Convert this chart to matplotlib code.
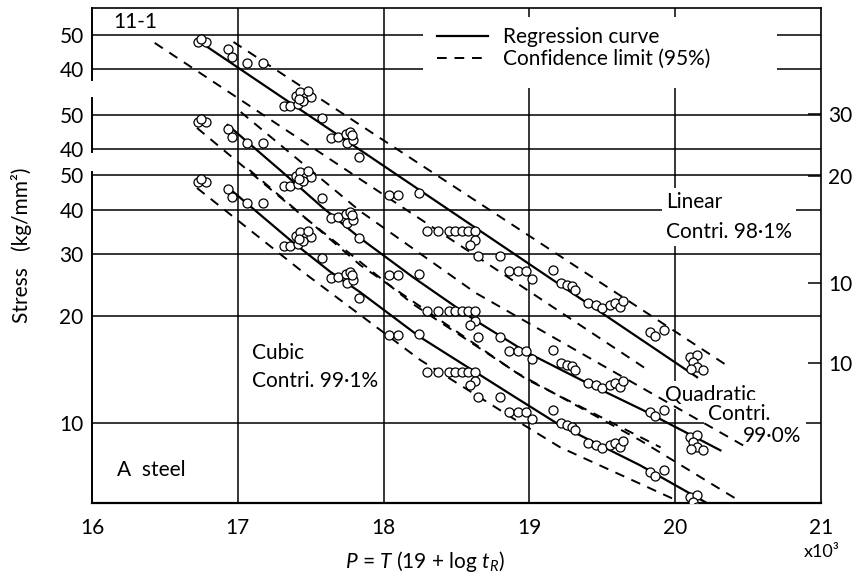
import matplotlib as mat
mat.use("Agg")
import matplotlib.pyplot as plt
from matplotlib.lines import Line2D
from matplotlib.patches import Rectangle
from matplotlib.ticker import NullLocator

mat.rcParams['font.family'] = ['Lato', 'DejaVu Sans']
mat.rcParams['mathtext.fontset'] = 'custom'
mat.rcParams['mathtext.rm'] = 'Lato'
mat.rcParams['mathtext.it'] = 'Lato:italic'

# rupture data: P = T(19 + log tR) in 10^3, stress in kg/mm2
p_data = [16.73, 16.78, 16.75, 16.93, 16.96, 17.06, 17.17,
          17.32, 17.36, 17.41, 17.40, 17.43, 17.47, 17.50, 17.45, 17.48, 17.42, 17.58,
          17.64, 17.69, 17.74, 17.77, 17.75, 17.79, 17.78, 17.83,
          18.04, 18.10, 18.24,
          18.30, 18.37, 18.45, 18.49, 18.54, 18.58, 18.63, 18.63, 18.59,
          18.65, 18.80, 18.86, 18.92, 18.98, 19.02, 19.16,
          19.22, 19.26, 19.29, 19.31,
          19.40, 19.46, 19.50, 19.55, 19.59, 19.62, 19.64,
          19.83, 19.86, 19.92,
          20.10, 20.15, 20.12, 20.15, 20.19, 20.11]
s_data = [47.8, 47.8, 48.7, 45.7, 43.3, 41.7, 41.7,
          31.5, 31.5, 31.9, 33.7, 34.5, 33.5, 33.5, 32.6, 34.8, 33.0, 29.2,
          25.6, 25.8, 26.3, 26.7, 24.9, 25.3, 26.1, 22.6,
          17.7, 17.7, 17.9,
          14.0, 14.0, 14.0, 14.0, 14.0, 14.0, 14.0, 13.2, 12.8,
          11.9, 11.9, 10.8, 10.8, 10.8, 10.3, 10.9,
          10.0, 9.9, 9.8, 9.6,
          8.8, 8.7, 8.5, 8.7, 8.8, 8.6, 8.9,
          7.3, 7.1, 7.4,
          6.2, 6.3, 6.0, 5.8, 5.7, 5.75]

# regression curves and 95% limits
lin_p = [16.79, 20.15]
lin_s = [46.3, 5.44]
lin_up_p = [16.97, 20.38]
lin_up_s = [47.8, 5.78]
lin_lo_p = [16.43, 19.79]
lin_lo_s = [47.5, 5.78]

quad_p = [16.93, 17.29, 17.58, 17.84, 18.20, 18.63, 18.98, 19.44, 19.78, 20.31]
quad_s = [46.9, 35.0, 27.5, 22.5, 17.5, 13.2, 10.75, 8.62, 7.38, 5.69]
quad_up_p = [17.02, 17.84, 18.63, 19.44, 20.49]
quad_up_s = [51.0, 26.8, 15.8, 10.2, 5.80]
quad_lo_p = [16.72, 17.43, 18.20, 18.98, 19.90]
quad_lo_s = [46.0, 26.3, 14.7, 9.02, 5.80]

cub_p = [16.97, 17.36, 17.63, 17.84, 18.25, 18.91, 19.21, 19.76, 20.22]
cub_s = [44.8, 32.8, 26.8, 23.4, 17.5, 11.8, 9.88, 7.62, 5.96]
cub_up_p = [17.08, 17.84, 18.91, 19.76, 20.41]
cub_up_s = [51.7, 27.9, 13.9, 8.96, 6.16]
cub_lo_p = [16.72, 17.43, 18.25, 18.91, 19.21, 20.01]
cub_lo_s = [46.0, 27.0, 15.1, 10.2, 8.57, 6.07]

# each model sits on its own log scale, shifted up on the chart
lin_shift = 2.48
quad_shift = 1.476

fig = plt.figure(figsize=(8.67, 5.79), dpi=100)
ax = fig.add_axes([92/867, 76/579, 729/867, 495/579])
ax.set_yscale('log')
ax.set_xlim(16, 21)
ax.set_ylim(5.97, 147.7)


def px(x, y):
    # pixel position of the reference -> axes fraction
    return (x - 92) / 729, (503 - y) / 495


grid_kw = dict(color='black', lw=1.1, zorder=1)
lin_grid = [50, 40]
quad_grid = [50, 40]
cub_grid = [50, 40, 30, 20, 10]
for v in lin_grid:
    ax.axhline(v * lin_shift, **grid_kw)
for v in quad_grid:
    ax.axhline(v * quad_shift, **grid_kw)
for v in cub_grid:
    ax.axhline(v, **grid_kw)
for p in [17, 18, 19, 20]:
    ax.axvline(p, **grid_kw)

# white patches where the labels sit over the grid
x0, y0 = px(423, 88)
x1, y1 = px(777, 17)
ax.add_patch(Rectangle((x0, y0), x1 - x0, y1 - y0, transform=ax.transAxes,
                       facecolor='white', edgecolor='none', zorder=2))

solid = dict(color='black', lw=1.6, zorder=3)
dash = dict(color='black', lw=1.4, ls=(0, (5, 4)), zorder=3)
mk = dict(ls='none', marker='o', ms=6.5, mfc='white', mec='black', mew=0.9, zorder=4)

sets = [
    (lin_shift, lin_p, lin_s, lin_up_p, lin_up_s, lin_lo_p, lin_lo_s),
    (quad_shift, quad_p, quad_s, quad_up_p, quad_up_s, quad_lo_p, quad_lo_s),
    (1.0, cub_p, cub_s, cub_up_p, cub_up_s, cub_lo_p, cub_lo_s),
]
for k, cp, cs, up, us, lp, ls in sets:
    ax.plot(up, [v * k for v in us], **dash)
    ax.plot(lp, [v * k for v in ls], **dash)
    ax.plot(cp, [v * k for v in cs], **solid)
    ax.plot(p_data, [v * k for v in s_data], **mk)

# left ticks: three stacked scales
yt = [v * lin_shift for v in lin_grid] + [v * quad_shift for v in quad_grid] + cub_grid
ax.set_yticks(yt, [str(v) for v in lin_grid + quad_grid + cub_grid])
ax.yaxis.set_minor_locator(NullLocator())
ax.set_xticks([16, 17, 18, 19, 20, 21], ['16', '17', '18', '19', '20', '21'])
ax.tick_params(length=0, labelsize=15, pad=6)
ax.tick_params(axis='x', pad=11)

# right ticks (linear and quadratic scales)
ax2 = ax.twinx()
ax2.set_yscale('log')
ax2.set_ylim(ax.get_ylim())
ax2.set_yticks([30 * lin_shift, 20 * lin_shift, 10 * lin_shift, 10 * quad_shift],
               ['30', '20', '10', '10'])
ax2.yaxis.set_minor_locator(NullLocator())
ax2.tick_params(direction='in', length=9.5, width=1.1, labelsize=15, pad=5)
for s in ax2.spines.values():
    s.set_visible(False)

for s in ['top', 'right', 'bottom']:
    ax.spines[s].set_linewidth(1.2)
ax.spines['bottom'].set_linewidth(1.6)
ax.spines['left'].set_visible(False)
for a, b in [(0.8545, 1.0), (0.7091, 0.8182), (0.0, 0.6687)]:
    ax.plot([0, 0], [a, b], transform=ax.transAxes, color='black', lw=1.4,
            clip_on=False, zorder=5)

handles = [Line2D([], [], **solid), Line2D([], [], **dash)]
lx, ly = px(437, 27)
ax.legend(handles, ['Regression curve', 'Confidence limit (95%)'],
          loc='upper left', bbox_to_anchor=(lx, ly), frameon=False,
          fontsize=15, borderpad=0, borderaxespad=0, handlelength=2.45,
          handletextpad=0.7, labelspacing=0.1)

box = dict(facecolor='white', edgecolor='none', pad=3)
tx, ty = px(666, 217)
ax.text(tx, ty, 'Linear\nContri. 98·1%', transform=ax.transAxes, fontsize=15,
        va='center', ha='left', linespacing=1.6, bbox=box, zorder=2.5)
tx, ty = px(665, 395)
ax.text(tx, ty, 'Quadratic', transform=ax.transAxes, fontsize=15,
        va='center', ha='left', bbox=box, zorder=2.5)
tx, ty = px(708, 414)
ax.text(tx, ty, 'Contri.', transform=ax.transAxes, fontsize=15,
        va='center', ha='left', bbox=box, zorder=2.5)
tx, ty = px(743, 436)
ax.text(tx, ty, '99·0%', transform=ax.transAxes, fontsize=15,
        va='center', ha='left', bbox=box, zorder=2.5)
tx, ty = px(252, 367)
ax.text(tx, ty, 'Cubic\nContri. 99·1%', transform=ax.transAxes, fontsize=15,
        va='center', ha='left', linespacing=1.55, zorder=2.5)
tx, ty = px(117, 470)
ax.text(tx, ty, 'A  steel', transform=ax.transAxes, fontsize=15, va='center', ha='left')
tx, ty = px(113, 22)
ax.text(tx, ty, '11-1', transform=ax.transAxes, fontsize=15, va='center', ha='left')

fig.text(22/867, 1 - 245/579, 'Stress   (kg/mm²)', rotation=90, fontsize=15,
         ha='center', va='center')
fig.text(425/867, 1 - 562/579, r'$P$ = $T$ (19 + log $t_R$)', fontsize=15,
         ha='center', va='center')
fig.text(822/867, 1 - 552/579, 'x10³', fontsize=13, ha='center', va='center')

fig.savefig('out.png', dpi=100)
